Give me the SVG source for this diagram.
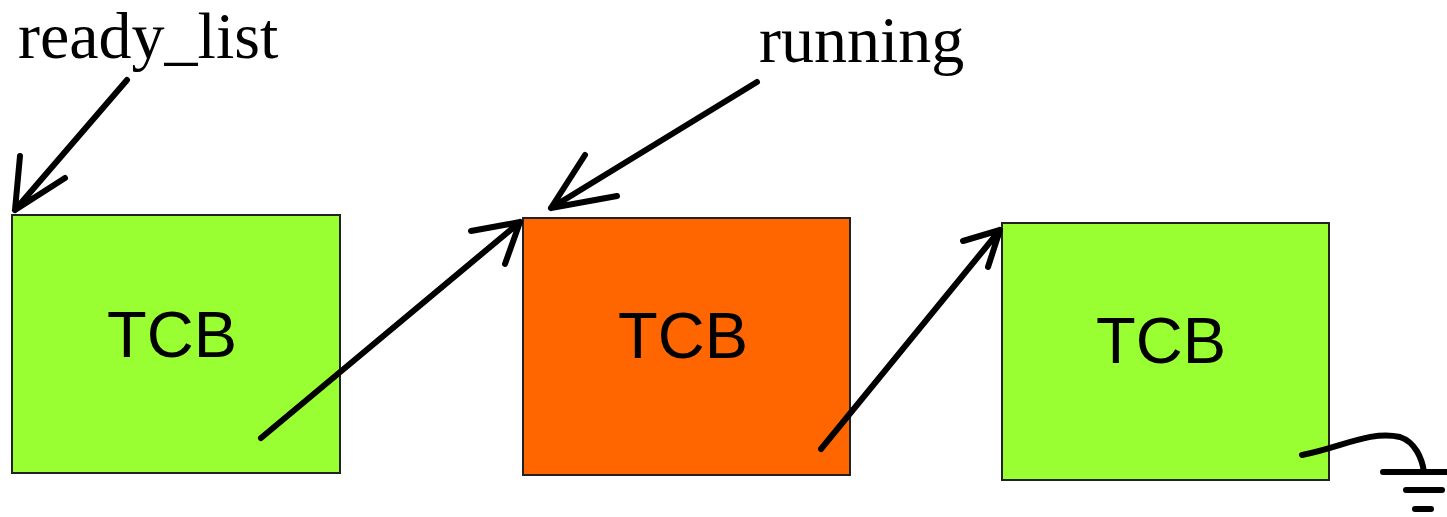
<svg xmlns="http://www.w3.org/2000/svg" width="1447" height="517" viewBox="0 0 1447 517">
<style>
.box{stroke:#222;stroke-width:2}
.green{fill:#99ff33}
.orange{fill:#ff6600}
.lbl{font-family:"Liberation Sans",Arial,sans-serif;font-size:65px;fill:#000;text-anchor:middle}
.cap{font-family:"Liberation Serif","Times New Roman",serif;font-size:66px;fill:#000}
.ln{fill:none;stroke:#000;stroke-width:6;stroke-linecap:round;stroke-linejoin:round}
</style>
<rect width="1447" height="517" fill="#fff"/>
<g id="label-ready">
<text class="cap" x="18" y="58">ready_list</text>
</g>
<g id="label-running">
<text class="cap" x="759" y="62">running</text>
</g>
<g id="tcb1">
<rect class="box green" x="12" y="215" width="328" height="258"/>
<text class="lbl" x="172" y="357">TCB</text>
</g>
<g id="tcb2">
<rect class="box orange" x="523" y="218" width="327" height="257"/>
<text class="lbl" x="683" y="358">TCB</text>
</g>
<g id="tcb3">
<rect class="box green" x="1002" y="223" width="327" height="257"/>
<text class="lbl" x="1161" y="363">TCB</text>
</g>
<g id="ground">
<path class="ln" d="M1383 472 H1446 M1406 490 H1442 M1415 509 H1431"/>
</g>
<g id="connectors">
<path class="ln" d="M127 80 L15 210 M20 156 L15 210 L65 178"/>
<path class="ln" d="M757 82 L551 208 M585 155 L551 208 L617 196"/>
<path class="ln" d="M261 438 L520 222 M471 231 L520 222 L505 264"/>
<path class="ln" d="M821 449 L1000 230 M963 241 L1000 230 L988 267"/>
<path class="ln" d="M1302 455 C1340 448 1370 430 1400 437 C1415 442 1422 458 1424 472"/>
</g>
</svg>
